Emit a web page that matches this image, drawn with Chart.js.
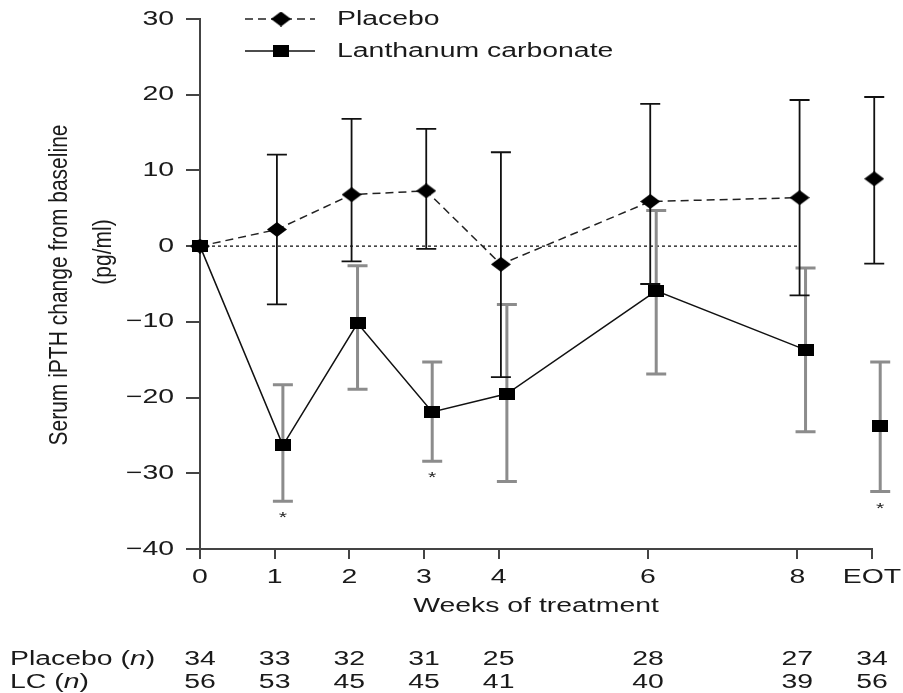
<!DOCTYPE html>
<html>
<head>
<meta charset="utf-8">
<script src="https://cdn.jsdelivr.net/npm/chart.js@4/dist/chart.umd.min.js"></script>
<style>
    html, body { margin: 0; padding: 0; background: #fff; }
    #wrap { width: 903px; height: 693px; position: relative; }
</style>
</head>
<body>
<div id="wrap"><canvas id="chart"></canvas></div>
<script>
// Data
const weeks = [0, 1, 2, 3, 4, 6, 8, 9];
const weekLabels = ['0', '1', '2', '3', '4', '6', '8', 'EOT'];
const yTicks = [-40, -30, -20, -10, 0, 10, 20, 30];

const placeboMean  = [0, 2.2, 6.8, 7.3, -2.4, 5.9, 6.4, 8.9];
const placeboUpper = [null, 12.1, 16.8, 15.5, 12.4, 18.8, 19.3, 19.7];
const placeboLower = [null, -7.7, -2.0, -0.35, -17.3, -5.0, -6.5, -2.3];

const lcMean  = [0, -26.3, -10.2, -21.9, -19.5, -5.9, -13.7, -23.8];
const lcUpper = [null, -18.3, -2.6, -15.3, -7.7, 4.7, -2.9, -15.3];
const lcLower = [null, -33.7, -18.9, -28.4, -31.1, -16.9, -24.5, -32.4];

const placeboN = [34, 33, 32, 31, 25, 28, 27, 34];
const lcN = [56, 53, 45, 45, 41, 40, 39, 56];
const sigWeeks = [1, 3, 9];   // weeks marked with *

// Style
const FONT = '"Liberation Sans", Arial, Helvetica, sans-serif';
const SX = 1.42;              // the source figure's text is horizontally stretched
const AXIS_COLOR = '#444';
const placeboShift = 0.03;
const lcShift = 0.11;

// Stretched markers drawn into small canvases
function makeMarker(shape, w, h) {
    const c = document.createElement('canvas');
    c.width = w; c.height = h;
    const g = c.getContext('2d');
    g.fillStyle = '#000';
    if (shape === 'diamond') {
        g.beginPath();
        g.moveTo(w / 2, 0); g.lineTo(w, h / 2); g.lineTo(w / 2, h); g.lineTo(0, h / 2);
        g.closePath(); g.fill();
    } else {
        g.fillRect(0, 0, w, h);
    }
    return c;
}
const diamond = makeMarker('diamond', 20, 15);
const square = makeMarker('square', 16, 12);

function toPoints(values, shift) {
    return values.map((v, i) => ({ x: weeks[i] === 0 ? 0 : weeks[i] + shift, y: v }));
}

function drawText(ctx, str, x, y, align, size, italic) {
    ctx.save();
    ctx.font = (italic ? 'italic ' : '') + size + 'px ' + FONT;
    ctx.textBaseline = 'middle';
    ctx.translate(x, y);
    ctx.scale(SX, 1);
    ctx.textAlign = align || 'left';
    ctx.fillText(str, 0, 0);
    ctx.restore();
}

function textWidth(ctx, str, size, italic) {
    ctx.save();
    ctx.font = (italic ? 'italic ' : '') + size + 'px ' + FONT;
    const w = ctx.measureText(str).width * SX;
    ctx.restore();
    return w;
}

// Error bars and the zero line, behind the markers
const errorBarPlugin = {
    id: 'errorBars',
    beforeDatasetsDraw(chart) {
        const ctx = chart.ctx;
        const xs = chart.scales.x, ys = chart.scales.y;

        // dotted zero reference up to week 8
        ctx.save();
        ctx.strokeStyle = '#333';
        ctx.lineWidth = 1.5;
        ctx.setLineDash([3, 3]);
        ctx.beginPath();
        ctx.moveTo(xs.getPixelForValue(0), ys.getPixelForValue(0));
        ctx.lineTo(xs.getPixelForValue(8), ys.getPixelForValue(0));
        ctx.stroke();
        ctx.restore();

        const bars = [
            { meta: chart.getDatasetMeta(1), up: lcUpper, lo: lcLower, color: '#8c8c8c', width: 3 },
            { meta: chart.getDatasetMeta(0), up: placeboUpper, lo: placeboLower, color: '#111', width: 1.8 }
        ];
        bars.forEach(b => {
            ctx.save();
            ctx.strokeStyle = b.color;
            ctx.lineWidth = b.width;
            b.meta.data.forEach((pt, i) => {
                if (b.up[i] === null) return;
                const yU = ys.getPixelForValue(b.up[i]);
                const yL = ys.getPixelForValue(b.lo[i]);
                ctx.beginPath();
                ctx.moveTo(pt.x, yU); ctx.lineTo(pt.x, yL);
                ctx.moveTo(pt.x - 10, yU); ctx.lineTo(pt.x + 10, yU);
                ctx.moveTo(pt.x - 10, yL); ctx.lineTo(pt.x + 10, yL);
                ctx.stroke();
            });
            ctx.restore();
        });
    }
};

// Tick labels, titles, legend, n-table and asterisks
const labelsPlugin = {
    id: 'labels',
    afterDraw(chart) {
        const ctx = chart.ctx;
        const xs = chart.scales.x, ys = chart.scales.y;
        ctx.save();
        ctx.fillStyle = '#1a1a1a';

        yTicks.forEach(v => {
            const s = v < 0 ? '\u2212' + Math.abs(v) : String(v);
            drawText(ctx, s, 174, ys.getPixelForValue(v), 'right', 20);
        });
        weeks.forEach((w, i) => {
            drawText(ctx, weekLabels[i], xs.getPixelForValue(w), 577, 'center', 20);
        });

        // axis titles
        drawText(ctx, 'Weeks of treatment', (xs.left + xs.right) / 2, 606, 'center', 20);
        const yTitle = [['Serum iPTH change from baseline', 60, 285], ['(pg/ml)', 104, 252]];
        yTitle.forEach(t => {
            ctx.save();
            ctx.font = '20px ' + FONT;
            ctx.textAlign = 'center';
            ctx.textBaseline = 'middle';
            ctx.translate(t[1], t[2]);
            ctx.rotate(-Math.PI / 2);
            ctx.scale(1.05, 1.25);
            ctx.fillText(t[0], 0, 0);
            ctx.restore();
        });

        // significance marks
        sigWeeks.forEach(w => {
            const i = weeks.indexOf(w);
            const pt = chart.getDatasetMeta(1).data[i];
            drawText(ctx, '*', pt.x, ys.getPixelForValue(lcLower[i]) + 17, 'center', 15);
        });

        // legend
        chart.data.datasets.forEach((ds, i) => {
            const y = 19 + i * 32;
            ctx.save();
            ctx.strokeStyle = ds.borderColor;
            ctx.lineWidth = ds.borderWidth;
            ctx.setLineDash(ds.borderDash || []);
            ctx.beginPath();
            ctx.moveTo(245, y); ctx.lineTo(315, y);
            ctx.stroke();
            const img = ds.pointStyle;
            ctx.drawImage(img, 281 - img.width / 2, y - img.height / 2);
            ctx.restore();
            drawText(ctx, ds.label, 337, y, 'left', 20);
        });

        // numbers of patients
        const rows = [['Placebo', placeboN, 659], ['LC', lcN, 682]];
        rows.forEach(r => {
            let x = 10;
            drawText(ctx, r[0] + ' (', x, r[2], 'left', 20);
            x += textWidth(ctx, r[0] + ' (', 20);
            drawText(ctx, 'n', x, r[2], 'left', 20, true);
            x += textWidth(ctx, 'n', 20, true);
            drawText(ctx, ')', x, r[2], 'left', 20);
            r[1].forEach((n, i) => {
                drawText(ctx, String(n), xs.getPixelForValue(weeks[i]), r[2], 'center', 20);
            });
        });
        ctx.restore();
    }
};

const lastIndex = weeks.length - 1;

new Chart(document.getElementById('chart'), {
    type: 'line',
    data: {
        datasets: [
            {
                label: 'Placebo',
                data: toPoints(placeboMean, placeboShift),
                borderColor: '#222',
                borderWidth: 1.5,
                borderDash: [8, 5],
                pointStyle: diamond,
                clip: false,
                segment: {
                    borderColor: c => c.p1DataIndex === lastIndex ? 'rgba(0,0,0,0)' : '#222'
                }
            },
            {
                label: 'Lanthanum carbonate',
                data: toPoints(lcMean, lcShift),
                borderColor: '#111',
                borderWidth: 1.5,
                pointStyle: square,
                clip: false,
                segment: {
                    borderColor: c => c.p1DataIndex === lastIndex ? 'rgba(0,0,0,0)' : '#111'
                }
            }
        ]
    },
    options: {
        responsive: true,
        maintainAspectRatio: false,
        animation: false,
        layout: { padding: { top: 19, right: 31, bottom: 0, left: 0 } },
        elements: { line: { tension: 0 }, point: { radius: 8 } },
        plugins: {
            legend: { display: false },
            tooltip: { enabled: false }
        },
        scales: {
            x: {
                type: 'linear',
                min: 0,
                max: 9,
                afterBuildTicks: scale => { scale.ticks = weeks.map(w => ({ value: w })); },
                afterFit: scale => { scale.height = 144; },
                ticks: { display: false },
                grid: {
                    display: true, drawOnChartArea: false, drawTicks: true,
                    tickLength: 10, color: AXIS_COLOR, lineWidth: 2
                },
                border: { display: true, color: AXIS_COLOR, width: 2 }
            },
            y: {
                min: -40,
                max: 30,
                afterBuildTicks: scale => { scale.ticks = yTicks.map(v => ({ value: v })); },
                afterFit: scale => { scale.width = 200; },
                ticks: { display: false },
                grid: {
                    display: true, drawOnChartArea: false, drawTicks: true,
                    tickLength: 14, color: AXIS_COLOR, lineWidth: 2
                },
                border: { display: true, color: AXIS_COLOR, width: 2 }
            }
        }
    },
    plugins: [errorBarPlugin, labelsPlugin]
});
</script>
</body>
</html>
